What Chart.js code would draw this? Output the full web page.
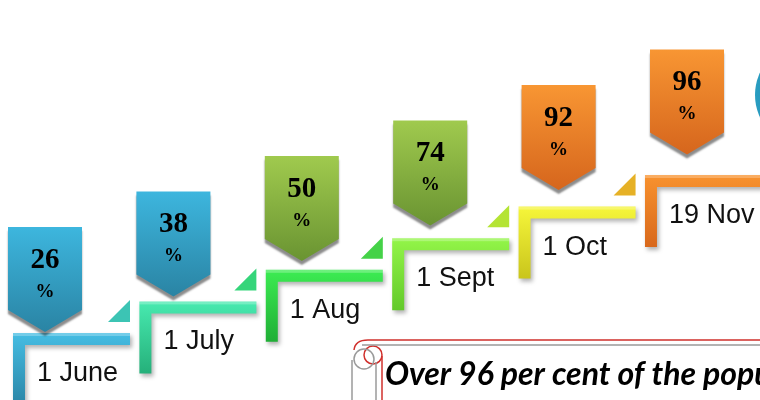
<!DOCTYPE html>
<html>
<head>
<meta charset="utf-8">
<script src="https://cdn.jsdelivr.net/npm/chart.js@4.4.0/dist/chart.umd.min.js"></script>
<style>
  body { margin: 0; background: #fff; }
  #wrap { width: 760px; height: 400px; }
</style>
</head>
<body>
<div id="wrap"><canvas id="stepsChart" width="760" height="400"></canvas></div>
<script>
// milestones and coverage
var dates = ['1 June', '1 July', '1 Aug', '1 Sept', '1 Oct', '19 Nov'];
var coverage = [26, 38, 50, 74, 92, 96];
var stepLevel = [0, 1, 2, 3, 4, 5];
var bannerText = 'Over 96 per cent of the population';

var stepColors = [
  ['#45bde3', '#2a85a6'], ['#48eab0', '#25b07a'], ['#3cec52', '#1fae35'],
  ['#93f548', '#62c92a'], ['#f6f63a', '#c9c51c'], ['#f8922e', '#d8681c']
];
var badgeColors = [
  ['#3db6de', '#2a84a4'], ['#3db6de', '#2a84a4'], ['#a0ca4e', '#6a9432'],
  ['#a0ca4e', '#6a9432'], ['#f89633', '#d6661d'], ['#f89633', '#d6661d']
];
// last step has no little triangle
var triColors = ['#3cc4b4', '#35d57a', '#45d248', '#b4e434', '#e6b126', null];

var stairPlugin = {
  id: 'stairs',
  afterDatasetsDraw: function(chart) {
    var ctx = chart.ctx;
    var sx = chart.scales.x, sy = chart.scales.y;
    var bx = chart.scales.xb, by = chart.scales.yb;
    ctx.save();

    // steps
    for (var i = 0; i < dates.length; i++) {
      var x = sx.getPixelForValue(i);
      var y = sy.getPixelForValue(stepLevel[i]);
      var g = ctx.createLinearGradient(0, y, 0, y + 72);
      g.addColorStop(0, stepColors[i][0]);
      g.addColorStop(1, stepColors[i][1]);
      ctx.shadowColor = 'rgba(0,0,0,0.3)';
      ctx.shadowOffsetY = 3;
      ctx.shadowOffsetX = 2;
      ctx.shadowBlur = 4;
      ctx.fillStyle = g;
      ctx.beginPath();
      ctx.moveTo(x, y);
      ctx.lineTo(x + 117, y);
      ctx.lineTo(x + 117, y + 12);
      ctx.lineTo(x + 12, y + 12);
      ctx.lineTo(x + 12, y + 72);
      ctx.lineTo(x, y + 72);
      ctx.closePath();
      ctx.fill();
      ctx.shadowColor = 'transparent';
      ctx.fillStyle = 'rgba(255,255,255,0.25)';
      ctx.fillRect(x, y, 117, 3);

      if (triColors[i]) {
        ctx.fillStyle = triColors[i];
        ctx.beginPath();
        ctx.moveTo(x + 95, y - 11);
        ctx.lineTo(x + 117, y - 11);
        ctx.lineTo(x + 117, y - 33);
        ctx.closePath();
        ctx.fill();
      }

      // date label
      ctx.fillStyle = '#111';
      ctx.font = '27px "Liberation Sans", sans-serif';
      ctx.textAlign = 'left';
      ctx.textBaseline = 'alphabetic';
      ctx.fillText(dates[i], x + 24, y + 48);
    }

    // badges
    for (var j = 0; j < dates.length; j++) {
      var cx = bx.getPixelForValue(j);
      var top = by.getPixelForValue(stepLevel[j]);
      var left = cx - 37;
      var bg = ctx.createLinearGradient(0, top, 0, top + 104);
      bg.addColorStop(0, badgeColors[j][0]);
      bg.addColorStop(1, badgeColors[j][1]);
      ctx.shadowColor = 'rgba(0,0,0,0.45)';
      ctx.shadowOffsetY = 4;
      ctx.shadowOffsetX = 0;
      ctx.shadowBlur = 2;
      ctx.fillStyle = bg;
      ctx.beginPath();
      ctx.moveTo(left, top);
      ctx.lineTo(left + 74, top);
      ctx.lineTo(left + 74, top + 83);
      ctx.lineTo(cx, top + 105);
      ctx.lineTo(left, top + 83);
      ctx.closePath();
      ctx.fill();
      ctx.shadowColor = 'transparent';
      ctx.fillStyle = '#000';
      ctx.textAlign = 'center';
      ctx.font = 'bold 29px "Liberation Serif", serif';
      ctx.fillText(coverage[j], cx, top + 41);
      ctx.font = 'bold 19px "Liberation Serif", serif';
      ctx.fillText('%', cx, top + 70);
    }

    // circle on the right edge
    var cg = ctx.createLinearGradient(752, 0, 800, 0);
    cg.addColorStop(0, '#2aa0c4');
    cg.addColorStop(1, '#1c7ea2');
    ctx.fillStyle = cg;
    ctx.beginPath();
    ctx.arc(808, 95, 53, 0, Math.PI * 2);
    ctx.fill();

    // scroll banner
    ctx.lineWidth = 1.5;
    ctx.strokeStyle = '#d0302c';
    ctx.beginPath();
    ctx.moveTo(760, 340);
    ctx.lineTo(368, 340);
    ctx.quadraticCurveTo(355, 340, 354, 350);
    ctx.stroke();
    ctx.beginPath();
    ctx.arc(373, 355, 9, 0, Math.PI * 2);
    ctx.stroke();
    ctx.beginPath();
    ctx.moveTo(382, 356);
    ctx.lineTo(382, 400);
    ctx.stroke();
    ctx.strokeStyle = '#9a9a9a';
    ctx.beginPath();
    ctx.moveTo(760, 345);
    ctx.lineTo(362, 345);
    ctx.stroke();
    ctx.beginPath();
    ctx.arc(364, 359, 10, 0, Math.PI * 2);
    ctx.stroke();
    ctx.beginPath();
    ctx.moveTo(352, 360);
    ctx.lineTo(352, 400);
    ctx.moveTo(376, 362);
    ctx.lineTo(376, 400);
    ctx.stroke();

    ctx.fillStyle = '#000';
    ctx.textAlign = 'left';
    ctx.font = 'italic bold 32px "Lato", sans-serif';
    ctx.fillText(bannerText, 385, 385);
    ctx.restore();
  }
};

new Chart(document.getElementById('stepsChart'), {
  type: 'scatter',
  data: {
    datasets: [{
      label: 'coverage',
      data: stepLevel.map(function(l, i) { return { x: i, y: l }; }),
      pointRadius: 0,
      showLine: false
    }]
  },
  options: {
    responsive: false,
    animation: false,
    layout: { padding: 0 },
    plugins: { legend: { display: false }, tooltip: { enabled: false } },
    scales: {
      x: { type: 'linear', display: false, min: -0.1028, max: 5.910 },
      y: { type: 'linear', display: false, min: -2.120, max: 10.538 },
      xb: { type: 'linear', axis: 'x', display: false, min: -0.3505, max: 5.5685 },
      yb: { type: 'linear', axis: 'y', display: false, min: -4.873, max: 6.394 }
    }
  },
  plugins: [stairPlugin]
});
</script>
</body>
</html>
